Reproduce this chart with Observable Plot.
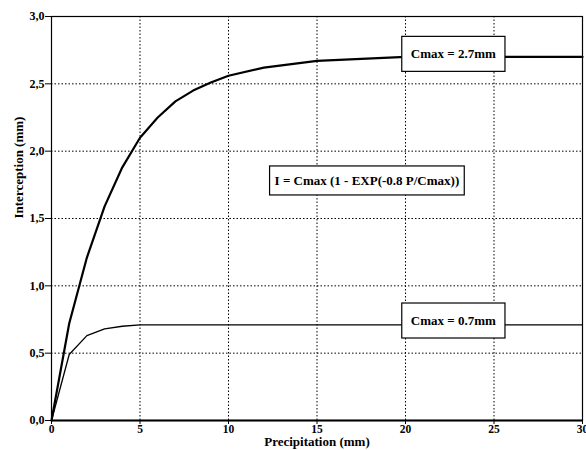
<!DOCTYPE html>
<html>
<head>
<meta charset="utf-8">
<script src="https://cdn.jsdelivr.net/npm/d3@7"></script>
<script src="https://cdn.jsdelivr.net/npm/@observablehq/plot@0.6"></script>
<style>
  html, body { margin: 0; padding: 0; background: white; }
  svg { display: block; }
  #chart svg, #chart svg text { font-family: "Liberation Serif", "Times New Roman", serif !important; font-weight: bold; }
</style>
</head>
<body>
<div id="chart"></div>
<script>
// Precipitation (mm)
const precipHigh = [0, 1, 2, 3, 4, 5, 6, 7, 8, 9, 10, 12, 15, 20, 25, 30];
// Interception (mm), Cmax = 2.7 mm
const interceptHigh = [0, 0.72, 1.21, 1.59, 1.88, 2.10, 2.25, 2.37, 2.45, 2.51, 2.56, 2.62, 2.67, 2.70, 2.70, 2.70];

const precipLow = [0, 1, 2, 3, 4, 5, 10, 15, 20, 25, 30];
// Interception (mm), Cmax = 0.7 mm
const interceptLow = [0, 0.49, 0.63, 0.68, 0.70, 0.71, 0.71, 0.71, 0.71, 0.71, 0.71];

const xTicks = [0, 5, 10, 15, 20, 25, 30];
const yTicks = [0, 0.5, 1.0, 1.5, 2.0, 2.5, 3.0];
const xGrid = [5, 10, 15, 20, 25];
const yGrid = [0.5, 1.0, 1.5, 2.0, 2.5];

const annoText = ["Cmax = 2.7mm", "I = Cmax (1 - EXP(-0.8 P/Cmax))", "Cmax = 0.7mm"];
const annoX = [22.7, 17.82, 22.7];
const annoY = [2.72, 1.78, 0.74];

const high = precipHigh.map((p, i) => ({p, v: interceptHigh[i]}));
const low = precipLow.map((p, i) => ({p, v: interceptLow[i]}));
const annos = annoText.map((t, i) => ({t, x: annoX[i], y: annoY[i]}));

const serif = "Liberation Serif";
const fmt = d => d3.format(".1f")(d).replace(".", ",");

const chart = Plot.plot({
  width: 586,
  height: 450,
  marginLeft: 51,
  marginRight: 4,
  marginTop: 16,
  marginBottom: 30,
  style: {fontFamily: serif, fontSize: "12px", fontWeight: "bold", color: "black", background: "white"},
  x: {domain: [0, 30]},
  y: {domain: [0, 3]},
  marks: [
    Plot.gridX(xGrid, {stroke: "black", strokeOpacity: 1, strokeWidth: 1, strokeDasharray: "1.5,2"}),
    Plot.gridY(yGrid, {stroke: "black", strokeOpacity: 1, strokeWidth: 1, strokeDasharray: "1.5,2"}),
    Plot.frame({stroke: "black", strokeWidth: 1.2}),
    Plot.ruleY([0], {stroke: "black", strokeWidth: 2}),
    Plot.axisX(xTicks, {tickSize: 4, tickPadding: 0, fontSize: 11.5, fontFamily: serif, label: null, stroke: "black"}),
    Plot.axisY(yTicks, {tickSize: 6, tickPadding: 1, fontSize: 12, fontFamily: serif, label: null, tickFormat: fmt, stroke: "black"}),
    Plot.line(low, {x: "p", y: "v", stroke: "black", strokeWidth: 1.3}),
    Plot.line(high, {x: "p", y: "v", stroke: "black", strokeWidth: 2.2}),
    Plot.text(annos, {x: "x", y: "y", text: "t", fontSize: 13, fontFamily: serif, fontWeight: "bold", fill: "black", ariaDescription: "annotation"}),
    Plot.text(["Precipitation (mm)"], {frameAnchor: "bottom", dy: 25, fontSize: 13, fontFamily: serif, fontWeight: "bold", fill: "black"}),
    Plot.text(["Interception (mm)"], {frameAnchor: "left", dx: -33, rotate: -90, fontSize: 13, fontFamily: serif, fontWeight: "bold", fill: "black"})
  ]
});

document.getElementById("chart").appendChild(chart);

// draw white boxes with black borders behind the annotation texts
const padX = [9, 5, 9];
const padY = [10, 7, 10];
const g = chart.querySelector('g[aria-description="annotation"]');
if (g) {
  const texts = Array.from(g.querySelectorAll("text"));
  texts.forEach((t, i) => {
    const bb = t.getBBox();
    const r = document.createElementNS("http://www.w3.org/2000/svg", "rect");
    r.setAttribute("x", bb.x - padX[i]);
    r.setAttribute("y", bb.y - padY[i]);
    r.setAttribute("width", bb.width + 2 * padX[i]);
    r.setAttribute("height", bb.height + 2 * padY[i]);
    r.setAttribute("fill", "white");
    r.setAttribute("stroke", "black");
    r.setAttribute("stroke-width", "1.2");
    const tr = t.getAttribute("transform");
    if (tr) r.setAttribute("transform", tr);
    g.insertBefore(r, t);
  });
}
</script>
</body>
</html>
